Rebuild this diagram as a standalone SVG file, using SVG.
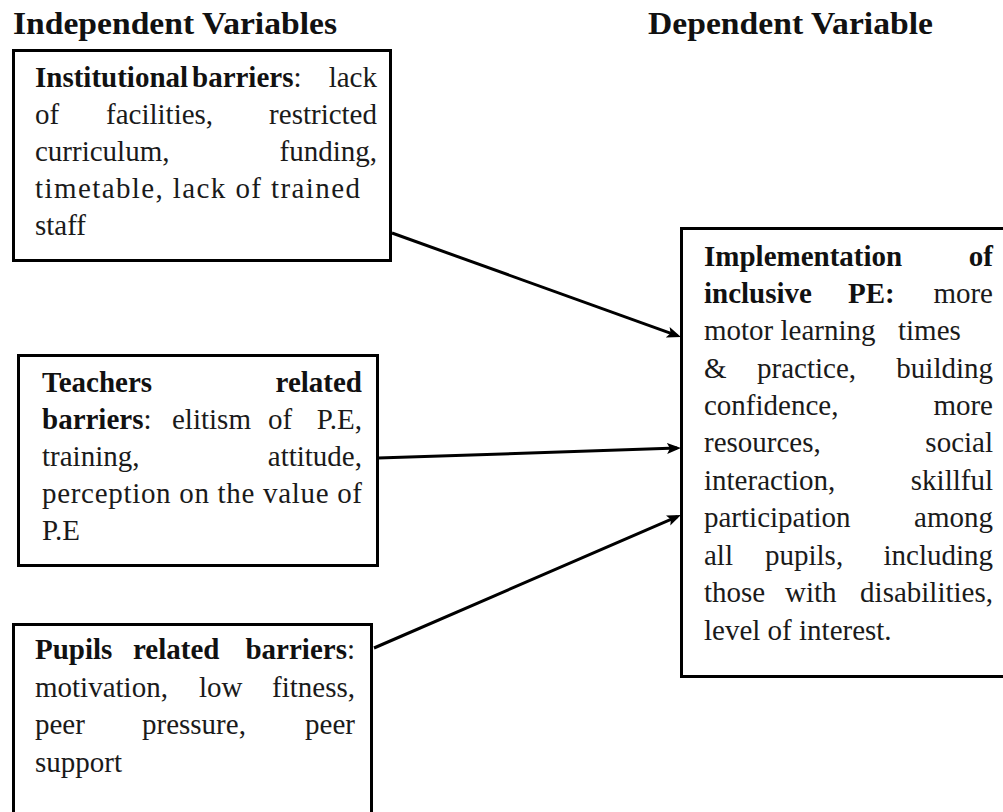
<svg xmlns="http://www.w3.org/2000/svg" width="1003" height="812" viewBox="0 0 1003 812">
<style>
.box{fill:#fff;stroke:#000;stroke-width:3}
.hd{font-family:"Liberation Serif","Times New Roman",serif;font-weight:bold;font-size:32px;fill:#111}
.t{font-family:"Liberation Serif","Times New Roman",serif;font-size:29px;fill:#1a1a1a}
.b{font-weight:bold;fill:#111}
.e{text-anchor:end}
.conn{stroke:#000;stroke-width:3;fill:none;marker-end:url(#ah)}
</style>
<defs>
<marker id="ah" markerUnits="userSpaceOnUse" markerWidth="16" markerHeight="12" refX="10" refY="5.5" orient="auto">
<path d="M0,0 L14,5.5 L0,11 L3,5.5 z" fill="#000"/>
</marker>
</defs>
<rect width="1003" height="812" fill="#fff"/>
<g id="headers">
<text class="hd" x="13" y="34" textLength="324" lengthAdjust="spacingAndGlyphs">Independent Variables</text>
<text class="hd" x="648" y="34" textLength="285" lengthAdjust="spacingAndGlyphs">Dependent Variable</text>
</g>
<g id="institutional">
<rect class="box" x="13.5" y="50.5" width="377" height="210"/>
<text class="t b" x="35" y="87">Institutional</text>
<text class="t" x="192" y="87"><tspan class="b">barriers</tspan>:</text>
<text class="t e" x="377" y="87">lack</text>
<text class="t" x="35" y="124">of</text>
<text class="t" x="106" y="124">facilities,</text>
<text class="t e" x="377" y="124">restricted</text>
<text class="t" x="35" y="161">curriculum,</text>
<text class="t e" x="377" y="161">funding,</text>
<text class="t" x="35" y="198" textLength="325">timetable, lack of trained</text>
<text class="t" x="35" y="235">staff</text>
</g>
<g id="teachers">
<rect class="box" x="18.5" y="355.5" width="359" height="210"/>
<text class="t b" x="42" y="392">Teachers</text>
<text class="t b e" x="362" y="392">related</text>
<text class="t" x="42" y="429"><tspan class="b">barriers</tspan>:</text>
<text class="t" x="172" y="429">elitism</text>
<text class="t" x="268" y="429">of</text>
<text class="t e" x="362" y="429">P.E,</text>
<text class="t" x="42" y="466">training,</text>
<text class="t e" x="362" y="466">attitude,</text>
<text class="t" x="42" y="503" textLength="320">perception on the value of</text>
<text class="t" x="42" y="540">P.E</text>
</g>
<g id="pupils">
<rect class="box" x="13.5" y="624.5" width="358" height="200"/>
<text class="t b" x="35" y="659">Pupils</text>
<text class="t b" x="133" y="659">related</text>
<text class="t e" x="355" y="659"><tspan class="b">barriers</tspan>:</text>
<text class="t" x="35" y="697">motivation,</text>
<text class="t" x="199" y="697">low</text>
<text class="t e" x="355" y="697">fitness,</text>
<text class="t" x="35" y="734">peer</text>
<text class="t" x="142" y="734">pressure,</text>
<text class="t e" x="355" y="734">peer</text>
<text class="t" x="35" y="772">support</text>
</g>
<g id="implementation">
<rect class="box" x="681.5" y="228.5" width="340" height="448"/>
<text class="t b" x="704" y="266">Implementation</text>
<text class="t b e" x="993" y="266">of</text>
<text class="t b" x="704" y="303">inclusive</text>
<text class="t b" x="848" y="303">PE:</text>
<text class="t e" x="993" y="303">more</text>
<text class="t" x="704" y="340">motor learning</text>
<text class="t" x="898" y="340">times</text>
<text class="t" x="704" y="378">&amp;</text>
<text class="t" x="757" y="378">practice,</text>
<text class="t e" x="993" y="378">building</text>
<text class="t" x="704" y="415">confidence,</text>
<text class="t e" x="993" y="415">more</text>
<text class="t" x="704" y="452">resources,</text>
<text class="t e" x="993" y="452">social</text>
<text class="t" x="704" y="490">interaction,</text>
<text class="t e" x="993" y="490">skillful</text>
<text class="t" x="704" y="527">participation</text>
<text class="t e" x="993" y="527">among</text>
<text class="t" x="704" y="565">all</text>
<text class="t" x="765" y="565">pupils,</text>
<text class="t e" x="993" y="565">including</text>
<text class="t" x="704" y="602">those</text>
<text class="t" x="785" y="602">with</text>
<text class="t e" x="993" y="602">disabilities,</text>
<text class="t" x="704" y="640">level of interest.</text>
</g>
<g id="connectors">
<line class="conn" x1="392" y1="233" x2="677.2" y2="335.6"/>
<line class="conn" x1="378" y1="458" x2="677" y2="448.1"/>
<line class="conn" x1="374" y1="648" x2="677.3" y2="516.6"/>
</g>
</svg>
